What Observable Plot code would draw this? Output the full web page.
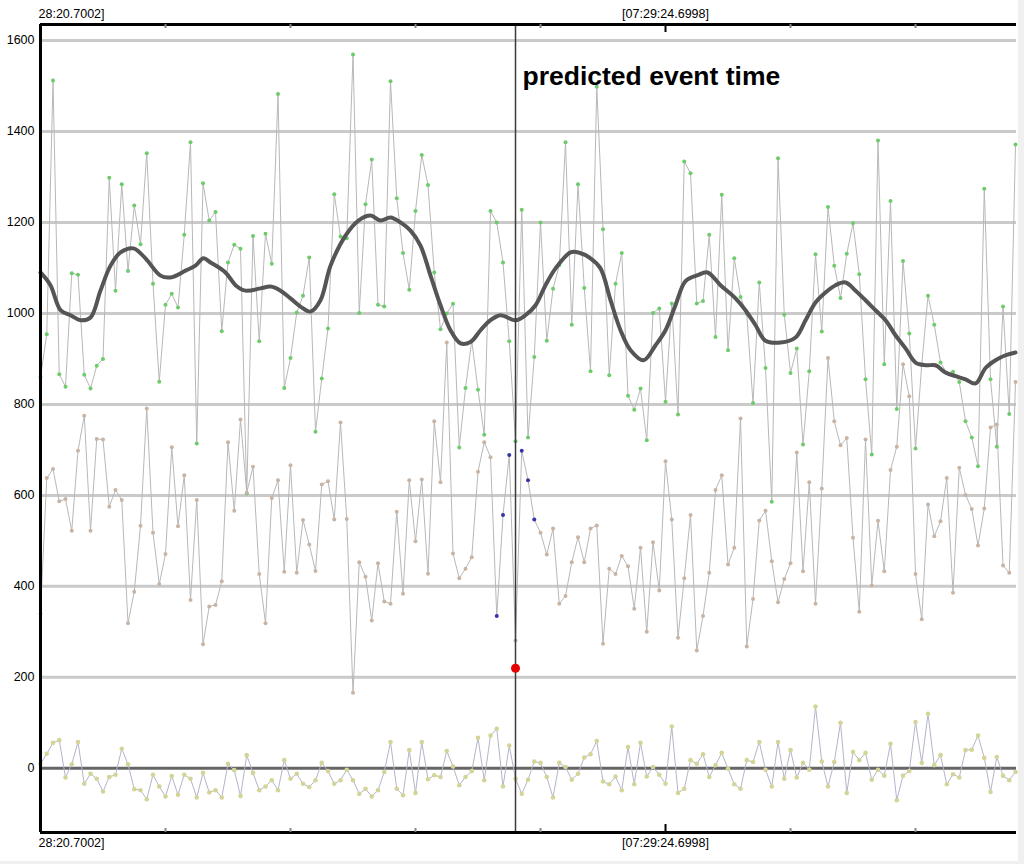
<!DOCTYPE html>
<html><head><meta charset="utf-8">
<script src="https://cdn.jsdelivr.net/npm/d3@7"></script>
<script src="https://cdn.jsdelivr.net/npm/@observablehq/plot@0.6"></script>
<style>
html,body{margin:0;padding:0;background:#f0f0f0;}
#chart{width:1018px;height:861px;background:#fff;}
</style></head><body><div id="chart"></div>
<script>
// ---- data ----
const sampleSec = 0.64;            // seconds between samples
const eventSec = 48.64;            // predicted event time (s from window start)
const eventLabel = "predicted event time";
const eventValue = 220;            // red marker value
const timeLabels = ["28:20.7002]", "[07:29:24.6998]"];   // left one is cut at the plot edge in the source
const timeLabelSec = [0, 64];
const minorTickSec = [12.8, 25.6, 38.4, 51.2, 76.8, 89.6];
const majorTickSec = [64];
const yTicks = [0, 200, 400, 600, 800, 1000, 1200, 1400, 1600];
const gridValues = [200, 400, 600, 800, 1000, 1200, 1400, 1600];

const high = [
  860, 954, 1512, 866, 839, 1088, 1085, 865, 835, 885,
  900, 1298, 1050, 1284, 1093, 1237, 1152, 1352, 1065, 850,
  1019, 1043, 1013, 1173, 1376, 714, 1286, 1204, 1223, 961,
  1112, 1151, 1142, 604, 1170, 939, 1175, 1109, 1482, 836,
  902, 1002, 1039, 1123, 740, 857, 967, 1262, 1169, 1165,
  1569, 1001, 1240, 1338, 1019, 1015, 1510, 1253, 1133, 1052,
  1225, 1348, 1282, 1090, 965, 1000, 1021, 705, 836, 940,
  832, 733, 1225, 1200, 1112, 939, 719, 1228, 727, 904,
  1200, 940, 1054, 1106, 1376, 975, 1284, 1056, 873, 1498,
  1185, 864, 1065, 1133, 819, 788, 835, 721, 1001, 1011,
  806, 1022, 778, 1334, 1308, 1022, 1027, 1173, 948, 1261,
  919, 1121, 1036, 999, 803, 1068, 880, 586, 1341, 997,
  869, 923, 712, 873, 1130, 960, 1234, 1105, 1034, 1131,
  1198, 1086, 855, 690, 1380, 888, 1247, 790, 1115, 956,
  703, 888, 1039, 975, 892, 869, 872, 849, 763, 727,
  664, 1274, 855, 707, 1015, 779, 1371
];
const mid = [
  340, 638, 658, 587, 592, 522, 698, 775, 522, 724,
  723, 575, 612, 590, 319, 388, 533, 791, 518, 405,
  471, 706, 532, 644, 370, 590, 273, 356, 359, 411,
  717, 566, 767, 606, 663, 427, 319, 594, 633, 432,
  666, 430, 546, 492, 434, 624, 631, 547, 760, 548,
  166, 453, 421, 325, 451, 367, 362, 564, 384, 633,
  499, 635, 428, 763, 629, 936, 472, 418, 439, 464,
  652, 717, 684, 335, 557, 689, 281, 698, 633, 547,
  518, 470, 527, 362, 379, 453, 508, 453, 527, 534,
  274, 439, 427, 467, 444, 351, 485, 300, 497, 391,
  675, 547, 287, 418, 557, 259, 335, 430, 612, 644,
  448, 485, 769, 268, 372, 545, 566, 455, 365, 416,
  451, 694, 433, 629, 362, 615, 902, 763, 710, 726,
  507, 344, 723, 402, 544, 433, 656, 707, 888, 818,
  427, 328, 580, 510, 543, 638, 386, 661, 601, 570,
  490, 571, 749, 756, 446, 430, 849
];
const low = [
  10, 32, 56, 62, -20, 9, 58, -34, -12, -23,
  -51, -19, -14, 43, 9, -46, -48, -68, -14, -40,
  -62, -17, -58, -14, -23, -64, -10, -53, -48, -64,
  10, -4, -61, 29, -10, -48, -40, -26, -48, 18,
  -23, -12, -34, -41, -26, 12, -6, -34, -26, -3,
  -26, -56, -45, -62, -48, -8, 58, -45, -59, 40,
  -54, 58, -24, -15, -19, 38, 4, -37, -19, -6,
  67, -26, 72, 87, -40, 50, -23, -56, -25, 15,
  12, -19, -64, 12, 3, -25, -12, 24, 31, 60,
  -29, -35, -18, -48, 47, -35, 56, -18, 3, -14,
  -34, 92, -54, -45, 18, 10, 31, -19, 7, 34,
  -1, -35, -45, 18, 14, 58, -3, -40, 58, -23,
  40, -20, 12, -3, 136, 15, -40, 14, 100, -54,
  36, 18, 34, -25, -3, -16, 54, -70, -16, -6,
  102, 12, 120, 7, 29, -35, -13, -20, 40, 41,
  72, 23, -52, 25, -16, -26, -8
];
const smoothT = [0, 1.02, 2.05, 3.07, 4.10, 5.12, 6.14, 7.17, 8.19, 9.52, 10.75, 12.29, 13.31, 14.85, 15.87, 16.69, 17.41, 18.94, 19.97, 20.99,
  22.53, 23.55, 24.58, 25.60, 26.62, 27.65, 28.67, 29.70, 31.23, 32.56, 33.79, 34.82, 35.84, 36.86, 37.89, 38.91, 39.94, 40.96, 41.98, 43.01,
  44.03, 45.06, 46.08, 47.10, 48.64, 49.66, 50.69, 51.71, 52.74, 54.27, 55.09, 56.32, 57.34, 58.37, 59.39, 60.42, 61.75, 62.98, 64.00, 65.02,
  66.05, 67.28, 68.30, 69.63, 71.17, 72.19, 73.22, 74.24, 75.78, 77.31, 78.34, 79.36, 80.38, 81.41, 82.43, 83.46, 84.48, 85.50, 86.53, 87.55,
  88.58, 89.60, 90.62, 91.65, 92.67, 93.70, 94.72, 95.74, 96.77, 97.79, 98.82, 99.84];
const smoothV = [1090, 1062, 1007, 996, 985, 991, 1050, 1105, 1134, 1143, 1121, 1083, 1079, 1094, 1105, 1121, 1112, 1090, 1062, 1050,
  1055, 1059, 1050, 1033, 1015, 1004, 1029, 1105, 1171, 1204, 1215, 1204, 1211, 1200, 1182, 1149, 1083, 1018, 963, 934,
  937, 963, 985, 996, 985, 996, 1018, 1062, 1099, 1134, 1134, 1121, 1099, 1029, 963, 919, 897, 930, 963, 1018,
  1071, 1084, 1090, 1062, 1033, 1007, 974, 940, 936, 947, 985, 1024, 1046, 1062, 1068, 1050, 1029, 1007, 985, 952,
  923, 892, 886, 886, 870, 862, 855, 846, 880, 897, 908, 914];

// ---- tables ----
const rows = (arr) => arr.map((v, i) => ({t: i * sampleSec, v}));
const rHigh = rows(high), rMid = rows(mid), rLow = rows(low);
const rSmooth = smoothT.map((t, i) => ({t, v: smoothV[i]}));
const nearEvent = (d) => d.t !== eventSec && Math.abs(d.t - eventSec) <= 3 * sampleSec + 1e-6;
const labels = timeLabels.map((label, i) => ({t: timeLabelSec[i], label}));
const leftLabels = labels.filter(d => d.t === timeLabelSec[0]);
const centerLabels = labels.filter(d => d.t !== timeLabelSec[0]);

const xDomain = [0, 99.94];
const yDomain = [-141, 1635];
const font = "'Liberation Sans', Arial, sans-serif";
const lblStyle = {fontSize: 12.5, fill: "#000", lineAnchor: "middle"};

const chart = Plot.plot({
  width: 1018, height: 861,
  marginLeft: 40, marginRight: 2, marginTop: 24, marginBottom: 29,
  style: {background: "#fff", fontFamily: font, fontSize: "12.5px", color: "#000"},
  x: {domain: xDomain, axis: null},
  y: {domain: yDomain, axis: null},
  marks: [
    Plot.ruleY(gridValues, {stroke: "#cacaca", strokeWidth: 3}),
    Plot.ruleY([0], {stroke: "#666", strokeWidth: 3}),
    Plot.line(rHigh, {x: "t", y: "v", stroke: "#b8b8b8", strokeWidth: 1}),
    Plot.line(rMid, {x: "t", y: "v", stroke: "#b8b8b8", strokeWidth: 1}),
    Plot.line(rLow, {x: "t", y: "v", stroke: "#b4b4c8", strokeWidth: 1}),
    Plot.dot(rHigh, {x: "t", y: "v", r: 2, fill: "#6ccc6c"}),
    Plot.dot(rMid.filter(d => !nearEvent(d)), {x: "t", y: "v", r: 2, fill: "#c8b4a4"}),
    Plot.dot(rMid.filter(nearEvent), {x: "t", y: "v", r: 2, fill: "#3535a8"}),
    Plot.dot(rLow, {x: "t", y: "v", r: 2.3, fill: "#d4d498"}),
    Plot.line(rSmooth, {x: "t", y: "v", stroke: "#555", strokeWidth: 4, curve: "catmull-rom"}),
    Plot.ruleX([eventSec], {stroke: "#3c3c3c", strokeWidth: 1.5}),
    Plot.dot([{t: eventSec, v: eventValue}], {x: "t", y: "v", r: 4.5, fill: "#e60000"}),
    Plot.text([eventLabel], {x: () => eventSec, frameAnchor: "top", lineAnchor: "middle", dx: 7, dy: 52, textAnchor: "start",
      text: d => d, fontSize: 26.5, fontWeight: "bold", fill: "#000", fontFamily: font}),
    // frame (left, top, bottom)
    Plot.ruleY([yDomain[1], yDomain[0]], {stroke: "#000", strokeWidth: 3}),
    Plot.ruleX([xDomain[0]], {stroke: "#000", strokeWidth: 3}),
    // inner ticks
    Plot.ruleX(minorTickSec, {y1: yDomain[1], y2: yDomain[1], insetBottom: -4, stroke: "#888", strokeWidth: 2}),
    Plot.ruleX(minorTickSec, {y1: yDomain[0], y2: yDomain[0], insetTop: -4, stroke: "#888", strokeWidth: 2}),
    Plot.ruleX(majorTickSec, {y1: yDomain[1], y2: yDomain[1], insetBottom: -8, stroke: "#000", strokeWidth: 2}),
    Plot.ruleX(majorTickSec, {y1: yDomain[0], y2: yDomain[0], insetTop: -8, stroke: "#000", strokeWidth: 2}),
    Plot.axisY(yTicks, {tickSize: 0, tickPadding: 6, fontSize: 12.5, fill: "#000", label: null, tickFormat: d => String(d)}),
    Plot.text(centerLabels, {x: "t", text: "label", frameAnchor: "top", dy: -11, ...lblStyle}),
    Plot.text(centerLabels, {x: "t", text: "label", frameAnchor: "bottom", dy: 10, ...lblStyle}),
    Plot.text(leftLabels, {x: "t", text: "label", frameAnchor: "top", dy: -11, dx: -2, textAnchor: "start", ...lblStyle}),
    Plot.text(leftLabels, {x: "t", text: "label", frameAnchor: "bottom", dy: 10, dx: -2, textAnchor: "start", ...lblStyle})
  ]
});

document.getElementById("chart").appendChild(chart);
</script>
</body></html>
